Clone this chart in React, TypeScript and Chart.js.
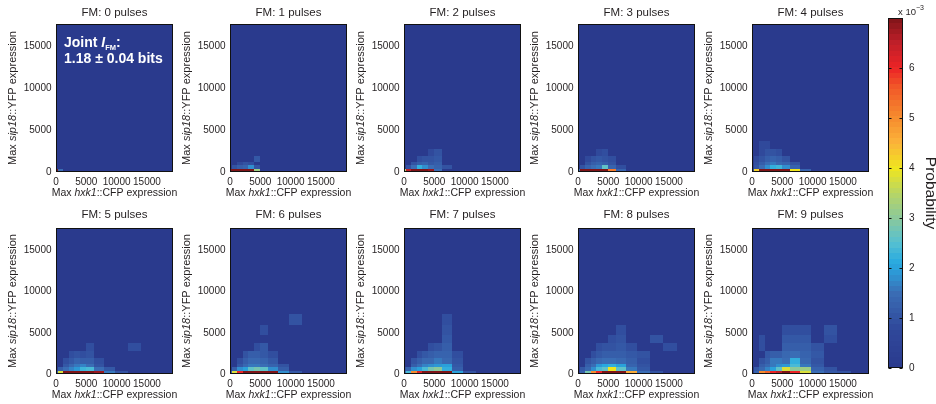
import React, { useEffect, useRef } from 'react';
import { Chart, registerables } from 'chart.js';

Chart.register(...registerables);

const FONT = "'Liberation Sans', Arial, Helvetica, sans-serif";
const TEXT = '#231f20';

// ---- data ----
const X_EDGES = [0, 350, 1100, 2100, 3000, 4000, 5000, 6300, 7900, 9800, 11800, 14000, 16300, 18800];
const Y_EDGES = [0, 320, 800, 1250, 1900, 2800, 3700, 4700, 5900, 7300, 8800];
const X_MAX = 19300;
const Y_MAX = 17700;
const X_TICKS = [0, 5000, 10000, 15000];
const Y_TICKS = [0, 5000, 10000, 15000];
const PULSES = [0, 1, 2, 3, 4, 5, 6, 7, 8, 9];

// cells: [x bin, y bin, probability x 1e-3]
const P0_CELLS = [[0, 0, 7], [1, 0, 1.5]];
const P1_CELLS = [
  [0, 0, 7], [1, 0, 7], [2, 0, 7], [3, 0, 7], [4, 0, 7], [5, 0, 3.2],
  [1, 1, 1.0], [2, 1, 1.2], [3, 1, 1.3], [4, 1, 1.8], [5, 1, 1.0],
  [2, 2, 0.8], [3, 2, 1.0], [4, 2, 0.9],
  [5, 3, 1.1],
];
const P2_CELLS = [
  [0, 0, 3.5], [1, 0, 6.5], [2, 0, 7], [3, 0, 7], [4, 0, 7], [5, 0, 6.8], [6, 0, 1.5],
  [1, 1, 1.0], [2, 1, 1.5], [3, 1, 2.2], [4, 1, 1.8], [5, 1, 1.5], [6, 1, 1.3], [7, 1, 1.0],
  [2, 2, 1.0], [3, 2, 1.2], [4, 2, 1.3], [5, 2, 1.1], [6, 2, 1.2],
  [3, 3, 0.9], [4, 3, 1.0], [5, 3, 1.0], [6, 3, 1.1],
  [5, 4, 0.8], [6, 4, 1.0],
];
const P3_CELLS = [
  [0, 0, 1.5], [1, 0, 7], [2, 0, 7], [3, 0, 7], [4, 0, 7], [5, 0, 7], [6, 0, 5.2], [7, 0, 1.3],
  [1, 1, 1.0], [2, 1, 1.3], [3, 1, 1.5], [4, 1, 1.6], [5, 1, 2.6], [6, 1, 1.3], [7, 1, 0.9],
  [2, 2, 1.0], [3, 2, 1.2], [4, 2, 1.3], [5, 2, 1.2], [6, 2, 1.0],
  [2, 3, 0.8], [3, 3, 1.0], [4, 3, 1.1], [5, 3, 1.0], [6, 3, 0.9],
  [4, 4, 0.8], [5, 4, 0.9],
];
const P4_CELLS = [
  [0, 0, 1.0], [1, 0, 4.2], [2, 0, 7], [3, 0, 7], [4, 0, 7], [5, 0, 7], [6, 0, 7], [7, 0, 4.0], [8, 0, 1.3],
  [1, 1, 1.0], [2, 1, 1.5], [3, 1, 1.8], [4, 1, 2.2], [5, 1, 2.3], [6, 1, 1.8], [7, 1, 1.3],
  [1, 2, 0.9], [2, 2, 1.2], [3, 2, 1.5], [4, 2, 1.6], [5, 2, 1.4], [6, 2, 1.3], [7, 2, 1.0],
  [1, 3, 0.8], [2, 3, 1.0], [3, 3, 1.2], [4, 3, 1.3], [5, 3, 1.2], [6, 3, 1.0],
  [2, 4, 0.8], [3, 4, 1.0], [4, 4, 1.0], [5, 4, 0.9],
  [2, 5, 0.8], [3, 5, 0.8],
];
const P5_CELLS = [
  [0, 0, 1.2], [1, 0, 3.8], [2, 0, 7], [3, 0, 7], [4, 0, 7], [5, 0, 7], [6, 0, 7], [7, 0, 6.8], [8, 0, 1.6], [9, 0, 1.0],
  [1, 1, 1.2], [2, 1, 1.5], [3, 1, 1.7], [4, 1, 1.9], [5, 1, 2.3], [6, 1, 2.4], [7, 1, 1.5], [8, 1, 1.1],
  [2, 2, 1.1], [3, 2, 1.4], [4, 2, 1.6], [5, 2, 1.7], [6, 2, 1.5], [7, 2, 1.0],
  [2, 3, 0.9], [3, 3, 1.1], [4, 3, 1.3], [5, 3, 1.2], [6, 3, 1.2], [7, 3, 0.9],
  [3, 4, 0.9], [4, 4, 1.0], [5, 4, 0.9], [6, 4, 1.0],
  [6, 5, 0.9], [10, 5, 0.9],
];
const P6_CELLS = [
  [0, 0, 1.2], [1, 0, 3.8], [2, 0, 6.0], [3, 0, 7], [4, 0, 7], [5, 0, 7], [6, 0, 7], [7, 0, 7], [8, 0, 1.8], [9, 0, 1.1],
  [1, 1, 1.2], [2, 1, 1.8], [3, 1, 2.0], [4, 1, 2.6], [5, 1, 2.8], [6, 1, 2.6], [7, 1, 1.8], [8, 1, 1.2],
  [2, 2, 1.1], [3, 2, 1.4], [4, 2, 1.6], [5, 2, 1.6], [6, 2, 1.5], [7, 2, 1.3], [8, 2, 1.0],
  [2, 3, 0.9], [3, 3, 1.2], [4, 3, 1.4], [5, 3, 1.4], [6, 3, 1.3], [7, 3, 1.1],
  [3, 4, 1.0], [4, 4, 1.2], [5, 4, 1.2], [6, 4, 1.1], [7, 4, 0.9],
  [5, 5, 0.9], [6, 5, 1.1],
  [6, 7, 0.9],
  [9, 8, 1.0],
];
const P7_CELLS = [
  [0, 0, 1.5], [1, 0, 2.4], [2, 0, 5.0], [3, 0, 6.2], [4, 0, 7], [5, 0, 7], [6, 0, 7], [7, 0, 7], [8, 0, 2.0], [9, 0, 1.0],
  [0, 1, 1.0], [1, 1, 1.3], [2, 1, 1.8], [3, 1, 2.0], [4, 1, 2.4], [5, 1, 2.8], [6, 1, 3.0], [7, 1, 2.2], [8, 1, 1.2],
  [2, 2, 1.2], [3, 2, 1.5], [4, 2, 1.7], [5, 2, 1.8], [6, 2, 1.9], [7, 2, 2.0], [8, 2, 1.1],
  [2, 3, 1.0], [3, 3, 1.2], [4, 3, 1.4], [5, 3, 1.4], [6, 3, 1.6], [7, 3, 1.4], [8, 3, 1.0],
  [3, 4, 0.9], [4, 4, 1.1], [5, 4, 1.2], [6, 4, 1.3], [7, 4, 1.3], [8, 4, 0.9],
  [5, 5, 0.9], [6, 5, 1.0], [7, 5, 1.2],
  [7, 6, 1.1], [7, 7, 1.0], [7, 8, 0.9],
];
const P8_CELLS = [
  [1, 0, 1.2], [2, 0, 2.8], [3, 0, 5.0], [4, 0, 6.0], [5, 0, 7], [6, 0, 7], [7, 0, 7], [8, 0, 4.6], [9, 0, 1.5], [10, 0, 1.0],
  [1, 1, 1.1], [2, 1, 1.4], [3, 1, 1.8], [4, 1, 2.4], [5, 1, 2.6], [6, 1, 4.0], [7, 1, 2.6], [8, 1, 1.6], [9, 1, 1.1],
  [2, 2, 1.2], [3, 2, 1.5], [4, 2, 1.9], [5, 2, 2.1], [6, 2, 2.2], [7, 2, 2.0], [8, 2, 1.3], [9, 2, 1.0],
  [2, 3, 1.0], [3, 3, 1.2], [4, 3, 1.4], [5, 3, 1.5], [6, 3, 1.5], [7, 3, 1.4], [8, 3, 1.2], [9, 3, 0.9],
  [3, 4, 0.9], [4, 4, 1.1], [5, 4, 1.2], [6, 4, 1.2], [7, 4, 1.2], [8, 4, 1.1], [9, 4, 1.0],
  [4, 5, 0.9], [5, 5, 1.0], [6, 5, 1.0], [7, 5, 1.1], [8, 5, 0.9], [11, 5, 0.9],
  [6, 6, 0.9], [7, 6, 1.0], [10, 6, 1.0],
  [7, 7, 0.9],
];
const P9_CELLS = [
  [1, 0, 1.3], [2, 0, 5.0], [3, 0, 5.5], [4, 0, 6.0], [5, 0, 6.5], [6, 0, 7], [7, 0, 6.0], [8, 0, 3.8], [9, 0, 1.5], [10, 0, 1.1], [11, 0, 1.0],
  [1, 1, 1.1], [2, 1, 1.4], [3, 1, 1.7], [4, 1, 2.0], [5, 1, 2.6], [6, 1, 3.8], [7, 1, 3.0], [8, 1, 3.2], [9, 1, 1.3], [10, 1, 1.0],
  [2, 2, 1.2], [3, 2, 1.4], [4, 2, 1.6], [5, 2, 1.8], [6, 2, 1.9], [7, 2, 2.4], [8, 2, 1.6], [9, 2, 1.1],
  [2, 3, 1.0], [3, 3, 1.2], [4, 3, 1.6], [5, 3, 1.6], [6, 3, 1.5], [7, 3, 2.2], [8, 3, 1.4], [9, 3, 1.0],
  [3, 4, 1.1], [4, 4, 1.2], [5, 4, 1.2], [6, 4, 1.4], [7, 4, 1.5], [8, 4, 1.3], [9, 4, 1.1],
  [2, 5, 0.9], [6, 5, 1.2], [7, 5, 1.2], [8, 5, 1.2], [9, 5, 1.0],
  [2, 6, 0.9], [6, 6, 1.1], [7, 6, 1.1], [8, 6, 1.1], [10, 6, 0.9],
  [6, 7, 0.9], [7, 7, 0.9], [8, 7, 0.9], [10, 7, 1.0],
];
const PANEL_CELLS = [P0_CELLS, P1_CELLS, P2_CELLS, P3_CELLS, P4_CELLS, P5_CELLS, P6_CELLS, P7_CELLS, P8_CELLS, P9_CELLS];

const CBAR_MAX = 7;
const CBAR_TICKS = [0, 1, 2, 3, 4, 5, 6];
const CMAP_VALUES = [0, 0.8, 1.5, 1.85, 2.1, 2.5, 3.0, 3.5, 4.0, 4.5, 5.0, 5.6, 6.0, 6.5, 7.0];
const CMAP_COLORS = ['#2a3a8d', '#30499b', '#3a6db5', '#2f94d2', '#27a9e0', '#55c0d2', '#8cc99a', '#b8d564', '#f0e61e', '#fbb33a', '#f68c2e', '#f15a28', '#ec2426', '#bf1f29', '#7e1418'];

// ---- helpers ----
function hexToRgb(h: string) {
  const n = parseInt(h.slice(1), 16);
  return [(n >> 16) & 255, (n >> 8) & 255, n & 255];
}
function cmap(v: number) {
  if (v <= CMAP_VALUES[0]) return CMAP_COLORS[0];
  const last = CMAP_VALUES.length - 1;
  if (v >= CMAP_VALUES[last]) return CMAP_COLORS[last];
  let i = 0;
  while (v > CMAP_VALUES[i + 1]) i++;
  const t = (v - CMAP_VALUES[i]) / (CMAP_VALUES[i + 1] - CMAP_VALUES[i]);
  const a = hexToRgb(CMAP_COLORS[i]);
  const b = hexToRgb(CMAP_COLORS[i + 1]);
  const c = a.map((x, k) => Math.round(x + (b[k] - x) * t));
  return `rgb(${c[0]},${c[1]},${c[2]})`;
}
const f = (size: number, style = 'normal', weight = 'normal') => `${style} ${weight} ${size}px ${FONT}`;
type Run = { text: string; font: string; dy?: number };
function drawRuns(ctx: CanvasRenderingContext2D, runs: Run[], x: number, y: number, align: 'left' | 'center') {
  let total = 0;
  const widths = runs.map((r) => {
    ctx.font = r.font;
    const w = ctx.measureText(r.text).width;
    total += w;
    return w;
  });
  let cx = align === 'center' ? x - total / 2 : x;
  ctx.textAlign = 'left';
  runs.forEach((r, i) => {
    ctx.font = r.font;
    ctx.fillText(r.text, cx, y + (r.dy || 0));
    cx += widths[i];
  });
}

const PANEL_LEFTS = [56, 230, 404, 578, 752];
const TICK_SIZE = 10;

function makeHeatPlugin(idx: number, titleOffset: number) {
  return {
    id: 'heat' + idx,
    beforeDatasetsDraw(chart: any) {
      const { ctx, chartArea: a, scales } = chart;
      const xs = scales.x, ys = scales.y;
      ctx.save();
      ctx.beginPath();
      ctx.rect(a.left, a.top, a.right - a.left, a.bottom - a.top);
      ctx.clip();
      ctx.fillStyle = cmap(0);
      ctx.fillRect(a.left, a.top, a.right - a.left, a.bottom - a.top);
      for (const p of chart.data.datasets[0].data) {
        const x0 = Math.round(xs.getPixelForValue(X_EDGES[p.xi]));
        const x1 = Math.round(xs.getPixelForValue(X_EDGES[p.xi + 1]));
        const y0 = Math.round(ys.getPixelForValue(Y_EDGES[p.yi]));
        const y1 = Math.round(ys.getPixelForValue(Y_EDGES[p.yi + 1]));
        ctx.fillStyle = cmap(p.v);
        ctx.fillRect(x0, y1, x1 - x0, y0 - y1);
      }
      ctx.restore();
    },
    afterDraw(chart: any) {
      const { ctx, chartArea: a, scales } = chart;
      const xs = scales.x;
      ctx.save();
      // frame
      ctx.strokeStyle = '#111';
      ctx.lineWidth = 1;
      ctx.strokeRect(Math.round(a.left) + 0.5, Math.round(a.top) + 0.5, Math.round(a.right - a.left) - 1, Math.round(a.bottom - a.top) - 1);
      ctx.fillStyle = TEXT;
      ctx.textBaseline = 'middle';
      // x tick labels
      ctx.font = f(TICK_SIZE);
      ctx.textAlign = 'center';
      for (const t of X_TICKS) {
        ctx.fillText(String(t), xs.getPixelForValue(t), a.bottom + 10);
      }
      const cx = (a.left + a.right) / 2;
      // title
      drawRuns(ctx, [{ text: `FM: ${PULSES[idx]} pulses`, font: f(11.5) }], cx, a.top - titleOffset, 'center');
      // x title
      drawRuns(ctx, [
        { text: 'Max ', font: f(10.5) },
        { text: 'hxk1', font: f(10.5, 'italic') },
        { text: '::CFP expression', font: f(10.5) },
      ], cx, a.bottom + 21.5, 'center');
      // y title
      ctx.save();
      ctx.translate(a.left - 43, (a.top + a.bottom) / 2);
      ctx.rotate(-Math.PI / 2);
      drawRuns(ctx, [
        { text: 'Max ', font: f(11) },
        { text: 'sip18', font: f(11, 'italic') },
        { text: '::YFP expression', font: f(11) },
      ], 0, 0, 'center');
      ctx.restore();
      if (idx === 0) {
        ctx.fillStyle = '#ffffff';
        ctx.textBaseline = 'alphabetic';
        const lx = a.left + 8;
        drawRuns(ctx, [
          { text: 'Joint ', font: f(14, 'normal', 'bold') },
          { text: 'I', font: f(14, 'italic', 'bold') },
          { text: 'FM', font: f(7.5, 'normal', 'bold'), dy: 3 },
          { text: ':', font: f(14, 'normal', 'bold') },
        ], lx, a.top + 22.5, 'left');
        drawRuns(ctx, [{ text: '1.18 \u00b1 0.04 bits', font: f(14, 'normal', 'bold') }], lx, a.top + 38.5, 'left');
      }
      ctx.restore();
    },
  };
}

function Panel({ idx }: { idx: number }) {
  const ref = useRef<HTMLCanvasElement>(null);
  const row = idx < 5 ? 0 : 1;
  const col = idx % 5;
  const left = PANEL_LEFTS[col] - 56;
  const top = row === 0 ? 0 : 204;
  const width = 186;
  const height = row === 0 ? 202 : 200;
  useEffect(() => {
    const cells = PANEL_CELLS[idx];
    const chart = new Chart(ref.current as HTMLCanvasElement, {
      type: 'scatter',
      data: {
        datasets: [{
          data: cells.map(([xi, yi, v]) => ({
            x: (X_EDGES[xi] + X_EDGES[xi + 1]) / 2,
            y: (Y_EDGES[yi] + Y_EDGES[yi + 1]) / 2,
            xi, yi, v,
          })) as any,
          pointRadius: 0,
          pointHoverRadius: 0,
        }],
      },
      options: {
        animation: false,
        responsive: false,
        events: [],
        layout: { padding: { top: 24, left: 0, right: 13, bottom: 18 } },
        plugins: { legend: { display: false }, tooltip: { enabled: false } },
        scales: {
          x: {
            type: 'linear', min: 0, max: X_MAX,
            grid: { display: false, drawTicks: false }, border: { display: false },
            ticks: { display: false },
            afterFit: (s: any) => { s.height = 12; },
          },
          y: {
            type: 'linear', min: 0, max: Y_MAX,
            grid: { display: false, drawTicks: false }, border: { display: false },
            ticks: { font: { family: FONT, size: TICK_SIZE }, color: TEXT, padding: 4.5, autoSkip: false, callback: (v: any) => String(v) },
            afterBuildTicks: (s: any) => { s.ticks = Y_TICKS.map((v) => ({ value: v })); },
            afterFit: (s: any) => { s.width = 56; },
          },
        },
      } as any,
      plugins: [makeHeatPlugin(idx, row === 0 ? 11 : 13)],
    });
    return () => chart.destroy();
  }, [idx]);
  return (
    <canvas ref={ref} width={width} height={height}
      style={{ position: 'absolute', left, top, width, height }} />
  );
}

const colorbarPlugin = {
  id: 'colorbar',
  beforeDatasetsDraw(chart: any) {
    const { ctx, chartArea: a, scales } = chart;
    const ys = scales.y;
    const n = 64;
    ctx.save();
    for (let i = 0; i < n; i++) {
      const v0 = (i / n) * CBAR_MAX;
      const v1 = ((i + 1) / n) * CBAR_MAX;
      const p0 = Math.round(ys.getPixelForValue(v0));
      const p1 = Math.round(ys.getPixelForValue(v1));
      ctx.fillStyle = cmap((v0 + v1) / 2);
      ctx.fillRect(a.left, p1, a.right - a.left, p0 - p1);
    }
    ctx.restore();
  },
  afterDraw(chart: any) {
    const { ctx, chartArea: a, scales } = chart;
    const ys = scales.y;
    ctx.save();
    ctx.strokeStyle = '#111';
    ctx.lineWidth = 1;
    const L = Math.round(a.left) + 0.5, R = Math.round(a.right) - 0.5;
    ctx.strokeRect(L, Math.round(a.top) + 0.5, R - L, Math.round(a.bottom - a.top) - 1);
    ctx.beginPath();
    for (const t of CBAR_TICKS) {
      const y = Math.round(ys.getPixelForValue(t)) + 0.5;
      ctx.moveTo(L, y); ctx.lineTo(L + 3, y);
      ctx.moveTo(R, y); ctx.lineTo(R - 3, y);
    }
    ctx.stroke();
    ctx.fillStyle = TEXT;
    ctx.textBaseline = 'alphabetic';
    drawRuns(ctx, [
      { text: 'x 10', font: f(9.5) },
      { text: '\u22123', font: f(7), dy: -5 },
    ], a.left + 10, 14.5, 'left');
    ctx.save();
    ctx.translate(a.right + 27, (a.top + a.bottom) / 2);
    ctx.rotate(Math.PI / 2);
    ctx.textBaseline = 'middle';
    drawRuns(ctx, [{ text: 'Probability', font: f(15.5) }], 0, 0, 'center');
    ctx.restore();
    ctx.restore();
  },
};

function ColorBar() {
  const ref = useRef<HTMLCanvasElement>(null);
  useEffect(() => {
    const chart = new Chart(ref.current as HTMLCanvasElement, {
      type: 'scatter',
      data: { datasets: [{ data: [], pointRadius: 0 }] },
      options: {
        animation: false,
        responsive: false,
        events: [],
        layout: { padding: { top: 18, left: 16, right: 0, bottom: 36 } },
        plugins: { legend: { display: false }, tooltip: { enabled: false } },
        scales: {
          x: { display: false, min: 0, max: 1 },
          y: {
            type: 'linear', position: 'right', min: 0, max: CBAR_MAX,
            grid: { display: false, drawTicks: false }, border: { display: false },
            ticks: { font: { family: FONT, size: TICK_SIZE }, color: TEXT, padding: 6, autoSkip: false, callback: (v: any) => String(v) },
            afterBuildTicks: (s: any) => { s.ticks = CBAR_TICKS.map((v) => ({ value: v })); },
            afterFit: (s: any) => { s.width = 33; },
          },
        },
      } as any,
      plugins: [colorbarPlugin],
    });
    return () => chart.destroy();
  }, []);
  return (
    <canvas ref={ref} width={64} height={404}
      style={{ position: 'absolute', left: 872, top: 0, width: 64, height: 404 }} />
  );
}

export default function App() {
  return (
    <div style={{ position: 'fixed', left: 0, top: 0, width: 936, height: 404, background: '#ffffff', overflow: 'hidden' }}>
      {PULSES.map((p, i) => <Panel key={p} idx={i} />)}
      <ColorBar />
    </div>
  );
}
